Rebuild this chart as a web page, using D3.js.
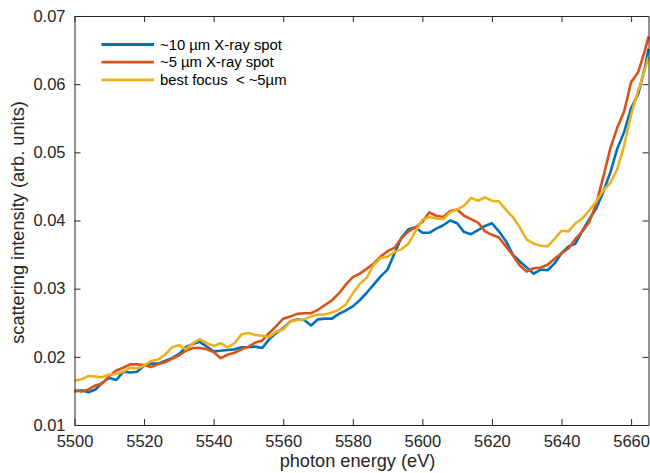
<!DOCTYPE html>
<html>
<head>
<meta charset="utf-8">
<script src="https://cdn.jsdelivr.net/npm/d3@7.9.0/dist/d3.min.js"></script>
<style>
  html, body { margin: 0; padding: 0; background: #fff; }
  svg { display: block; font-family: "Liberation Sans", Arial, Helvetica, sans-serif; }
</style>
</head>
<body>
<div id="chart"></div>
<script>
// ---- data ----
const energy = [
  5500, 5502, 5504, 5506, 5508, 5510, 5512, 5514, 5516, 5518,
  5520, 5522, 5524, 5526, 5528, 5530, 5532, 5534, 5536, 5538,
  5540, 5542, 5544, 5546, 5548, 5550, 5552, 5554, 5556, 5558,
  5560, 5562, 5564, 5566, 5568, 5570, 5572, 5574, 5576, 5578,
  5580, 5582, 5584, 5586, 5588, 5590, 5592, 5594, 5596, 5598,
  5600, 5602, 5604, 5606, 5608, 5610, 5612, 5614, 5616, 5618,
  5620, 5622, 5624, 5626, 5628, 5630, 5632, 5634, 5636, 5638,
  5640, 5642, 5644, 5646, 5648, 5650, 5652, 5654, 5656, 5658,
  5660, 5662, 5664, 5665
];

const spot10 = [
  0.0149, 0.0151, 0.0148, 0.0152, 0.0162, 0.0169, 0.0166, 0.0178, 0.0177, 0.0178,
  0.0187, 0.0190, 0.0190, 0.0194, 0.0198, 0.0204, 0.0214, 0.0219, 0.0222, 0.0215,
  0.0208, 0.0209, 0.0210, 0.0211, 0.0214, 0.0214, 0.0215, 0.0213, 0.0226, 0.0235,
  0.0242, 0.0252, 0.0255, 0.0254, 0.0246, 0.0255, 0.0256, 0.0256, 0.0263, 0.0268,
  0.0274, 0.0283, 0.0294, 0.0306, 0.0318, 0.0328, 0.0352, 0.0375, 0.0387, 0.0390,
  0.0382, 0.0382, 0.0388, 0.0393, 0.0400, 0.0396, 0.0383, 0.0380, 0.0386, 0.0392,
  0.0396, 0.0384, 0.0370, 0.0350, 0.0340, 0.0331, 0.0322, 0.0328, 0.0327, 0.0337,
  0.0352, 0.0362, 0.0366, 0.0385, 0.0402, 0.0418, 0.0442, 0.0470, 0.0505, 0.0530,
  0.0565, 0.0585, 0.0625, 0.0652
];

const spot5 = [
  0.0151, 0.0149, 0.0152, 0.0158, 0.0161, 0.0172, 0.0180, 0.0184, 0.0189, 0.0189,
  0.0188, 0.0185, 0.0189, 0.0192, 0.0197, 0.0202, 0.0209, 0.0213, 0.0213, 0.0211,
  0.0207, 0.0198, 0.0203, 0.0206, 0.0211, 0.0215, 0.0221, 0.0224, 0.0235, 0.0245,
  0.0256, 0.0259, 0.0263, 0.0264, 0.0264, 0.0269, 0.0276, 0.0283, 0.0293, 0.0306,
  0.0317, 0.0322, 0.0329, 0.0337, 0.0347, 0.0355, 0.0360, 0.0374, 0.0384, 0.0390,
  0.0398, 0.0412, 0.0407, 0.0405, 0.0414, 0.0416, 0.0407, 0.0402, 0.0397, 0.0384,
  0.0379, 0.0375, 0.0362, 0.0349, 0.0334, 0.0325, 0.0330, 0.0331, 0.0335, 0.0344,
  0.0352, 0.0359, 0.0373, 0.0384, 0.0398, 0.0425, 0.0464, 0.0505, 0.0536, 0.0560,
  0.0603, 0.0617, 0.0650, 0.0670
];

const bestFocus = [
  0.0165, 0.0167, 0.0172, 0.0171, 0.0170, 0.0174, 0.0175, 0.0178, 0.0184, 0.0183,
  0.0187, 0.0194, 0.0196, 0.0203, 0.0214, 0.0217, 0.0211, 0.0220, 0.0226, 0.0220,
  0.0216, 0.0220, 0.0214, 0.0220, 0.0233, 0.0235, 0.0232, 0.0231, 0.0229, 0.0237,
  0.0240, 0.0252, 0.0254, 0.0255, 0.0259, 0.0262, 0.0262, 0.0265, 0.0269, 0.0277,
  0.0293, 0.0307, 0.0316, 0.0335, 0.0345, 0.0347, 0.0354, 0.0358, 0.0366, 0.0384,
  0.0401, 0.0405, 0.0403, 0.0402, 0.0412, 0.0416, 0.0422, 0.0433, 0.0429, 0.0434,
  0.0429, 0.0428, 0.0416, 0.0405, 0.0390, 0.0372, 0.0366, 0.0363, 0.0362, 0.0373,
  0.0385, 0.0384, 0.0396, 0.0403, 0.0415, 0.0428, 0.0444, 0.0455, 0.0475, 0.0510,
  0.0555, 0.0590, 0.0622, 0.0640
];

const seriesNames = ["~10 \u00b5m X-ray spot", "~5 \u00b5m X-ray spot", "best focus  < ~5\u00b5m"];
const seriesColors = ["#0072BD", "#D95319", "#EDB120"];
const xTicks = [5500, 5520, 5540, 5560, 5580, 5600, 5620, 5640, 5660];
const yTicks = [0.01, 0.02, 0.03, 0.04, 0.05, 0.06, 0.07];

// ---- layout ----
const W = 650, H = 473;
const margin = {top: 16, right: 1.5, bottom: 48, left: 74.5};
const iw = W - margin.left - margin.right;
const ih = H - margin.top - margin.bottom;
const ink = "#262626";

const svg = d3.select("#chart").append("svg")
  .attr("width", W).attr("height", H);

const g = svg.append("g").attr("transform", `translate(${margin.left},${margin.top})`);

const x = d3.scaleLinear().domain([5500, 5665]).range([0, iw]);
const y = d3.scaleLinear().domain([0.01, 0.07]).range([ih, 0]);

// lines
const series = [spot10, spot5, bestFocus];
const line = d3.line()
  .x((d, i) => x(energy[i]))
  .y(d => y(d));

series.forEach((vals, k) => {
  g.append("path")
    .datum(vals)
    .attr("fill", "none")
    .attr("stroke", seriesColors[k])
    .attr("stroke-width", 2.6)
    .attr("stroke-linejoin", "round")
    .attr("d", line);
});

// axes (ticks inward, box on all sides)
const tickLen = 6;
const styleAxis = sel => {
  sel.select(".domain").attr("stroke", ink).attr("stroke-width", 1);
  sel.selectAll(".tick line").attr("stroke", ink).attr("stroke-width", 1);
  sel.selectAll(".tick text").attr("fill", ink).attr("font-size", "16.5px")
    .attr("font-family", "Liberation Sans, Arial, sans-serif");
};

g.append("g")
  .attr("transform", `translate(0,${ih})`)
  .call(d3.axisBottom(x).tickValues(xTicks).tickFormat(d3.format("d"))
    .tickSizeInner(-tickLen).tickSizeOuter(0).tickPadding(10))
  .call(styleAxis);

g.append("g")
  .call(d3.axisTop(x).tickValues(xTicks).tickFormat("")
    .tickSizeInner(-tickLen).tickSizeOuter(0))
  .call(styleAxis);

g.append("g")
  .call(d3.axisLeft(y).tickValues(yTicks).tickFormat(d3.format(".2f"))
    .tickSizeInner(-tickLen).tickSizeOuter(0).tickPadding(9))
  .call(styleAxis);

g.append("g")
  .attr("transform", `translate(${iw},0)`)
  .call(d3.axisRight(y).tickValues(yTicks).tickFormat("")
    .tickSizeInner(-tickLen).tickSizeOuter(0))
  .call(styleAxis);

// axis labels
svg.append("text")
  .attr("x", margin.left + iw / 2 - 4)
  .attr("y", 467)
  .attr("text-anchor", "middle")
  .attr("font-size", "18.2px")
  .attr("fill", ink)
  .text("photon energy (eV)");

svg.append("text")
  .attr("transform", `translate(24,${margin.top + ih / 2 + 2}) rotate(-90)`)
  .attr("text-anchor", "middle")
  .attr("font-size", "18.2px")
  .attr("fill", ink)
  .text("scattering intensity (arb. units)");

// legend
const legend = svg.append("g").attr("transform", "translate(101.5,44.5)");
seriesNames.forEach((name, i) => {
  const row = legend.append("g").attr("transform", `translate(0,${i * 17.7})`);
  row.append("line")
    .attr("x1", 0).attr("x2", 52.5)
    .attr("y1", 0).attr("y2", 0)
    .attr("stroke", seriesColors[i])
    .attr("stroke-width", 2.8);
  row.append("text")
    .attr("x", 58.5).attr("y", 0)
    .attr("dy", "0.35em")
    .attr("font-size", "14.85px")
    .attr("fill", "#000")
    .style("white-space", "pre")
    .text(name);
});
</script>
</body>
</html>
